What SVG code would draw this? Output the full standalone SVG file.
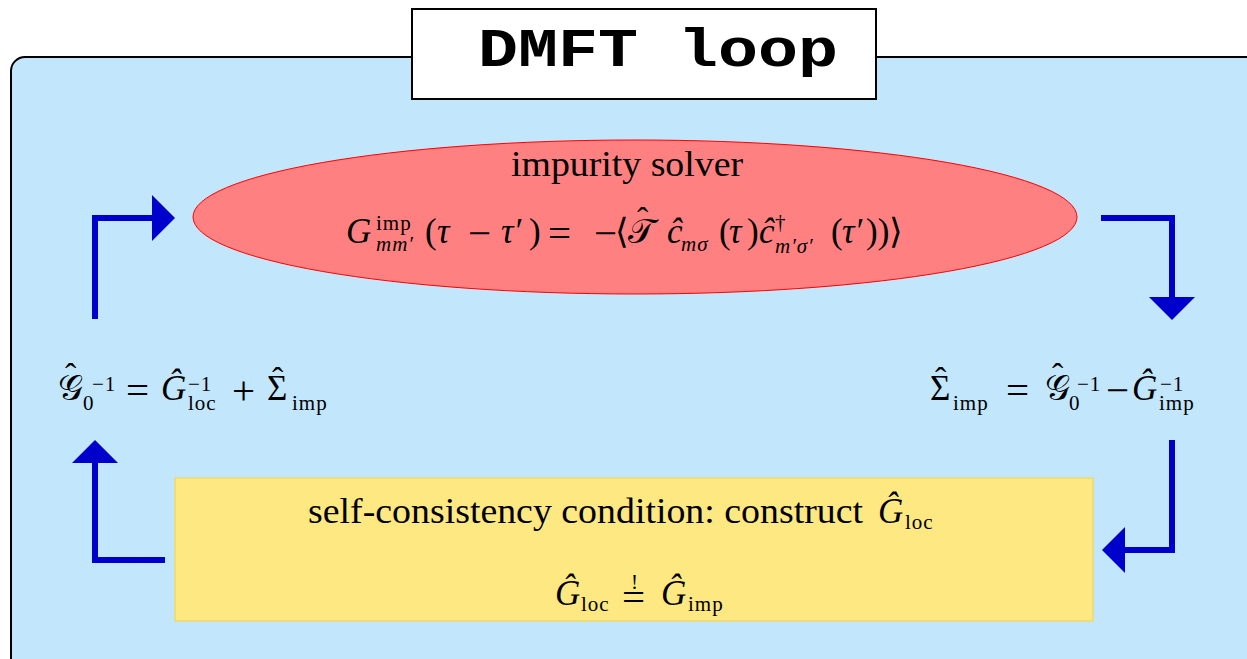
<svg xmlns="http://www.w3.org/2000/svg" width="1247" height="659" viewBox="0 0 1247 659">
<style>
.m{font-family:"Liberation Serif","DejaVu Serif",serif;font-size:35px;fill:#000}
.i{font-style:italic}
.s{font-size:21px;letter-spacing:1px}
.op{font-size:41px}
.h{font-size:34px;font-style:normal}
.conn{fill:none;stroke:#0000cc;stroke-width:6;stroke-linejoin:miter}
.ttl{font-family:"Liberation Mono","DejaVu Sans Mono",monospace;font-weight:bold;font-size:54px;fill:#000}
</style>
<defs>
<marker id="ah" viewBox="0 0 23 46" refX="0" refY="23" markerWidth="23" markerHeight="46" markerUnits="userSpaceOnUse" orient="auto">
<path d="M0,0 L23,23 L0,46 Z" fill="#0000cc"/>
</marker>
</defs>
<rect width="1247" height="659" fill="#ffffff"/>
<g id="frame">
<rect x="11" y="57" width="1262" height="640" rx="14" fill="#c2e6fc" stroke="#000" stroke-width="2"/>
</g>
<g id="title">
<rect x="412" y="9" width="464" height="90" fill="#fff" stroke="#000" stroke-width="2"/>
<text class="ttl" x="478" y="66" textLength="360" lengthAdjust="spacingAndGlyphs">DMFT loop</text>
</g>
<g id="solver">
<ellipse cx="635" cy="217" rx="442" ry="77" fill="#ff8080" stroke="#ff0000" stroke-width="1"/>
<text class="m" x="511" y="176" font-size="35" textLength="232" lengthAdjust="spacingAndGlyphs">impurity solver</text>
<text class="m" y="243"><tspan x="346" class="i">G</tspan><tspan x="376" y="230" class="s">imp</tspan><tspan x="376" y="251" class="s i">mm′</tspan><tspan x="425" y="243">(</tspan><tspan x="437" class="i">τ</tspan><tspan x="468" y="247" class="op">−</tspan><tspan x="501" y="243" class="i">τ′</tspan><tspan x="529">)</tspan><tspan x="548" y="247" class="op">=</tspan><tspan x="594" class="op">−</tspan><tspan x="615" y="243">⟨</tspan><tspan x="628">𝒯</tspan><tspan x="637" y="231" class="h">ˆ</tspan><tspan x="667" y="243" class="i">ĉ</tspan><tspan x="681" y="251" class="s i">mσ</tspan><tspan x="719" y="243">(</tspan><tspan x="729" class="i">τ</tspan><tspan x="747">)</tspan><tspan x="759" class="i">ĉ</tspan><tspan x="775" y="229" class="s">†</tspan><tspan x="775" y="253" class="s i">m′σ′</tspan><tspan x="831" y="243">(</tspan><tspan x="842" class="i">τ′</tspan><tspan x="866">))</tspan><tspan x="889">⟩</tspan></text>
</g>
<g id="g0-eq">
<text class="m" y="400"><tspan x="58">𝒢</tspan><tspan x="65" y="387" class="h">ˆ</tspan><tspan x="83" y="410" class="s">0</tspan><tspan x="92" y="391" class="s">−1</tspan><tspan x="126" y="404" class="op">=</tspan><tspan x="161" y="400" class="i">Ĝ</tspan><tspan x="188" y="391" class="s">−1</tspan><tspan x="188" y="410" class="s">loc</tspan><tspan x="232" y="404" class="op">+</tspan><tspan x="267" y="400">Σ</tspan><tspan x="272" y="391" class="h">ˆ</tspan><tspan x="292" y="410" class="s">imp</tspan></text>
</g>
<g id="sigma-eq">
<text class="m" y="400"><tspan x="930">Σ</tspan><tspan x="935" y="391" class="h">ˆ</tspan><tspan x="953" y="410" class="s">imp</tspan><tspan x="1006" y="404" class="op">=</tspan><tspan x="1045" y="400">𝒢</tspan><tspan x="1052" y="387" class="h">ˆ</tspan><tspan x="1069" y="410" class="s">0</tspan><tspan x="1077" y="391" class="s">−1</tspan><tspan x="1106" y="404" class="op">−</tspan><tspan x="1132" y="400" class="i">Ĝ</tspan><tspan x="1160" y="391" class="s">−1</tspan><tspan x="1159" y="410" class="s">imp</tspan></text>
</g>
<g id="selfcons">
<rect x="175" y="478" width="918" height="143" fill="#fee882" stroke="#f2d340" stroke-width="1"/>
<text class="m" x="308" y="523" textLength="555" lengthAdjust="spacingAndGlyphs">self-consistency condition: construct</text>
<text class="m" y="523"><tspan x="878" class="i">Ĝ</tspan><tspan x="905" y="529" class="s">loc</tspan></text>
<text class="m" y="605"><tspan x="555" class="i">Ĝ</tspan><tspan x="581" y="611" class="s">loc</tspan><tspan x="622" y="611" class="op">=</tspan><tspan x="631" y="589" class="s">!</tspan><tspan x="661" y="605" class="i">Ĝ</tspan><tspan x="688" y="611" class="s">imp</tspan></text>
</g>
<g id="connectors">
<path class="conn" d="M95,319 V218 H152" marker-end="url(#ah)"/>
<path class="conn" d="M1101,218 H1172 V297" marker-end="url(#ah)"/>
<path class="conn" d="M1172,440 V550 H1125" marker-end="url(#ah)"/>
<path class="conn" d="M165,560 H95 V463" marker-end="url(#ah)"/>
</g>
</svg>
